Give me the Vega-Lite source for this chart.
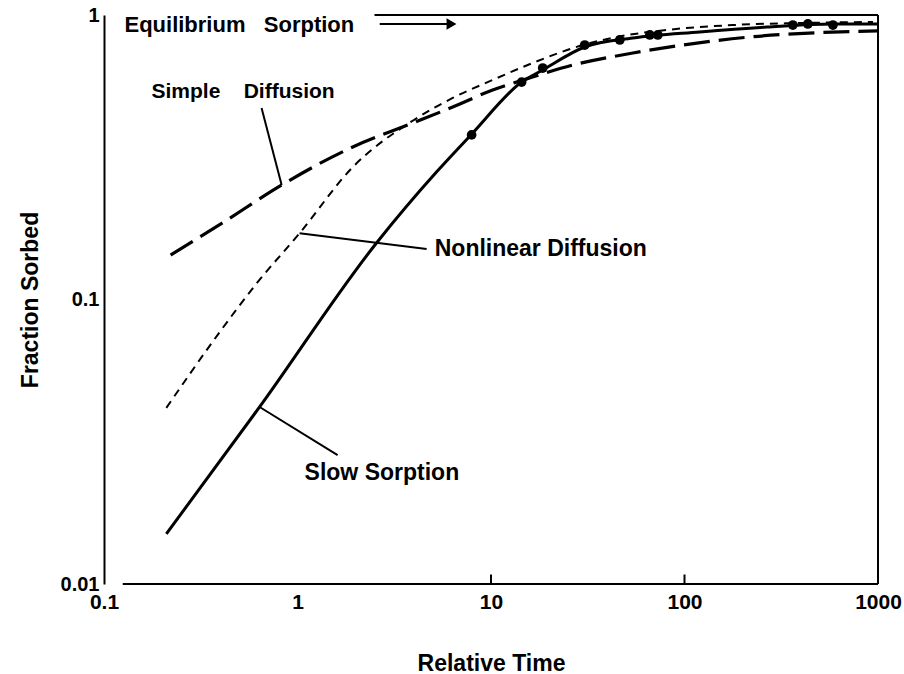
{
  "$schema": "https://vega.github.io/schema/vega-lite/v6.json",
  "width": 774,
  "height": 569,
  "autosize": {"type": "none"},
  "padding": {"left": 104, "top": 15, "right": 26, "bottom": 90},
  "background": "white",
  "config": {
    "view": {"stroke": null},
    "font": "Liberation Sans"
  },
  "datasets": {
    "curves": [
      {"series": "Slow Sorption", "t": 0.21, "f": 0.015},
      {"series": "Slow Sorption", "t": 0.637, "f": 0.0419},
      {"series": "Slow Sorption", "t": 2.56, "f": 0.158},
      {"series": "Slow Sorption", "t": 5.24, "f": 0.281},
      {"series": "Slow Sorption", "t": 7.94, "f": 0.381},
      {"series": "Slow Sorption", "t": 14.4, "f": 0.581},
      {"series": "Slow Sorption", "t": 18.5, "f": 0.641},
      {"series": "Slow Sorption", "t": 30.5, "f": 0.772},
      {"series": "Slow Sorption", "t": 54.1, "f": 0.83},
      {"series": "Slow Sorption", "t": 120, "f": 0.872},
      {"series": "Slow Sorption", "t": 266, "f": 0.907},
      {"series": "Slow Sorption", "t": 585, "f": 0.93},
      {"series": "Slow Sorption", "t": 1000, "f": 0.93},
      {"series": "Nonlinear Diffusion", "t": 0.21, "f": 0.0416},
      {"series": "Nonlinear Diffusion", "t": 0.386, "f": 0.075},
      {"series": "Nonlinear Diffusion", "t": 0.622, "f": 0.115},
      {"series": "Nonlinear Diffusion", "t": 1.025, "f": 0.171},
      {"series": "Nonlinear Diffusion", "t": 1.93, "f": 0.292},
      {"series": "Nonlinear Diffusion", "t": 3.94, "f": 0.425},
      {"series": "Nonlinear Diffusion", "t": 6.34, "f": 0.511},
      {"series": "Nonlinear Diffusion", "t": 10.2, "f": 0.591},
      {"series": "Nonlinear Diffusion", "t": 16.4, "f": 0.678},
      {"series": "Nonlinear Diffusion", "t": 29.8, "f": 0.784},
      {"series": "Nonlinear Diffusion", "t": 44.7, "f": 0.837},
      {"series": "Nonlinear Diffusion", "t": 81, "f": 0.886},
      {"series": "Nonlinear Diffusion", "t": 178, "f": 0.922},
      {"series": "Nonlinear Diffusion", "t": 394, "f": 0.937},
      {"series": "Nonlinear Diffusion", "t": 942, "f": 0.945},
      {"series": "Simple Diffusion", "t": 0.221, "f": 0.1433},
      {"series": "Simple Diffusion", "t": 0.41, "f": 0.186},
      {"series": "Simple Diffusion", "t": 0.828, "f": 0.2526},
      {"series": "Simple Diffusion", "t": 1.93, "f": 0.3436},
      {"series": "Simple Diffusion", "t": 3.94, "f": 0.417},
      {"series": "Simple Diffusion", "t": 6.34, "f": 0.475},
      {"series": "Simple Diffusion", "t": 10.2, "f": 0.545},
      {"series": "Simple Diffusion", "t": 16.4, "f": 0.605},
      {"series": "Simple Diffusion", "t": 26.5, "f": 0.667},
      {"series": "Simple Diffusion", "t": 54.1, "f": 0.735},
      {"series": "Simple Diffusion", "t": 98, "f": 0.784},
      {"series": "Simple Diffusion", "t": 218, "f": 0.837},
      {"series": "Simple Diffusion", "t": 440, "f": 0.864},
      {"series": "Simple Diffusion", "t": 1000, "f": 0.879}
    ],
    "dots": [
      {"t": 7.94, "f": 0.379},
      {"t": 14.4, "f": 0.581},
      {"t": 18.5, "f": 0.651},
      {"t": 30.5, "f": 0.784},
      {"t": 46.3, "f": 0.817},
      {"t": 66.2, "f": 0.851},
      {"t": 72.8, "f": 0.851},
      {"t": 363, "f": 0.922},
      {"t": 434, "f": 0.93},
      {"t": 585, "f": 0.922}
    ],
    "segments": [
      {"id": "simpleLeader", "t": 0.652, "f": 0.471},
      {"id": "simpleLeader", "t": 0.828, "f": 0.2526},
      {"id": "nonlinearLeader", "t": 1.025, "f": 0.171},
      {"id": "nonlinearLeader", "t": 4.65, "f": 0.1505},
      {"id": "slowLeader", "t": 0.637, "f": 0.0419},
      {"id": "slowLeader", "t": 1.612, "f": 0.0284},
      {"id": "equilibrium", "t": 2.5, "f": 1},
      {"id": "equilibrium", "t": 1000, "f": 1},
      {"id": "frame", "t": 1000, "f": 0.01},
      {"id": "frame", "t": 1000, "f": 1},
      {"id": "baseline", "t": 0.125, "f": 0.01},
      {"id": "baseline", "t": 1000, "f": 0.01},
      {"id": "tick10", "t": 10, "f": 0.01},
      {"id": "tick10", "t": 10, "f": 0.0108},
      {"id": "tick100", "t": 100, "f": 0.01},
      {"id": "tick100", "t": 100, "f": 0.0108},
      {"id": "arrow", "t": 2.66, "f": 0.93},
      {"id": "arrow", "t": 6.2, "f": 0.93}
    ],
    "arrowhead": [
      {"t": 6.25, "f": 0.93}
    ],
    "labelsTop": [
      {"text": "Equilibrium\u00a0\u00a0\u00a0Sorption", "t": 0.1276, "f": 0.922}
    ],
    "labelsSimple": [
      {"text": "Simple\u00a0\u00a0\u00a0\u00a0Diffusion", "t": 0.176, "f": 0.536}
    ],
    "labelsCurve": [
      {"text": "Nonlinear Diffusion", "t": 5.12, "f": 0.1505},
      {"text": "Slow Sorption", "t": 1.088, "f": 0.0246}
    ]
  },
  "encoding": {
    "x": {
      "field": "t",
      "type": "quantitative",
      "scale": {"type": "log", "domain": [0.1, 1000]},
      "axis": {
        "title": "Relative Time",
        "values": [0.1, 1, 10, 100, 1000],
        "format": "~g",
        "grid": false,
        "ticks": false,
        "domain": false,
        "labelFont": "Liberation Sans",
        "labelFontSize": 21,
        "labelFontWeight": "bold",
        "labelColor": "black",
        "labelPadding": 7,
        "labelFlush": false,
        "labelOverlap": false,
        "labelBound": false,
        "titleFont": "Liberation Sans",
        "titleFontSize": 23,
        "titleFontWeight": "bold",
        "titleColor": "black",
        "titlePadding": 40
      }
    },
    "y": {
      "field": "f",
      "type": "quantitative",
      "scale": {"type": "log", "domain": [0.01, 1]},
      "axis": {
        "title": "Fraction Sorbed",
        "values": [0.01, 0.1, 1],
        "format": "~g",
        "grid": false,
        "ticks": false,
        "domainColor": "black",
        "domainWidth": 2,
        "labelFont": "Liberation Sans",
        "labelFontSize": 20,
        "labelFontWeight": "bold",
        "labelColor": "black",
        "labelPadding": 5,
        "labelFlush": false,
        "labelOverlap": false,
        "labelBound": false,
        "titleFont": "Liberation Sans",
        "titleFontSize": 23,
        "titleFontWeight": "bold",
        "titleColor": "black",
        "titlePadding": 18
      }
    }
  },
  "layer": [
    {
      "data": {"name": "curves"},
      "transform": [{"filter": "datum.series == 'Slow Sorption'"}],
      "mark": {"type": "line", "color": "black", "strokeWidth": 3, "interpolate": "monotone", "clip": true}
    },
    {
      "data": {"name": "curves"},
      "transform": [{"filter": "datum.series == 'Nonlinear Diffusion'"}],
      "mark": {"type": "line", "color": "black", "strokeWidth": 2, "strokeDash": [8, 6], "interpolate": "monotone", "clip": true}
    },
    {
      "data": {"name": "curves"},
      "transform": [{"filter": "datum.series == 'Simple Diffusion'"}],
      "mark": {"type": "line", "color": "black", "strokeWidth": 3.2, "strokeDash": [26, 9], "interpolate": "monotone", "clip": true}
    },
    {
      "data": {"name": "segments"},
      "mark": {"type": "line", "color": "black", "strokeWidth": 2},
      "encoding": {"detail": {"field": "id"}}
    },
    {
      "data": {"name": "arrowhead"},
      "mark": {"type": "point", "shape": "triangle-right", "filled": true, "color": "black", "size": 130, "opacity": 1}
    },
    {
      "data": {"name": "dots"},
      "mark": {"type": "point", "shape": "circle", "filled": true, "color": "black", "size": 95, "opacity": 1}
    },
    {
      "data": {"name": "labelsTop"},
      "mark": {"type": "text", "align": "left", "baseline": "middle", "font": "Liberation Sans", "fontSize": 22, "fontWeight": "bold", "color": "black"},
      "encoding": {"text": {"field": "text"}}
    },
    {
      "data": {"name": "labelsSimple"},
      "mark": {"type": "text", "align": "left", "baseline": "middle", "font": "Liberation Sans", "fontSize": 21, "fontWeight": "bold", "color": "black"},
      "encoding": {"text": {"field": "text"}}
    },
    {
      "data": {"name": "labelsCurve"},
      "mark": {"type": "text", "align": "left", "baseline": "middle", "font": "Liberation Sans", "fontSize": 23, "fontWeight": "bold", "color": "black"},
      "encoding": {"text": {"field": "text"}}
    }
  ]
}
